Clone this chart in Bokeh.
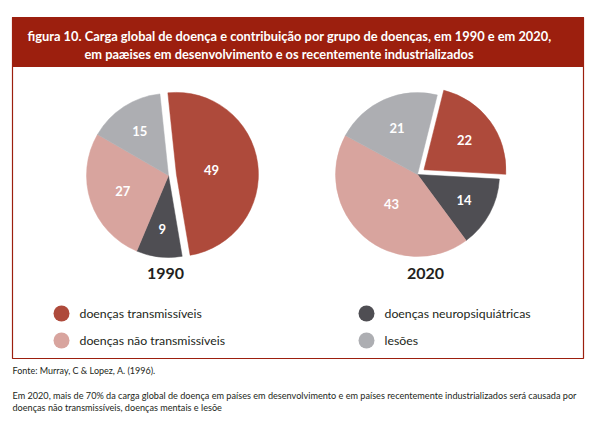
import math
from bokeh.plotting import figure
from bokeh.models import Range1d, ColumnDataSource
from bokeh.core.properties import value
from bokeh.embed import file_html
from bokeh.resources import INLINE

# ---- data ----
categories = ["doenças transmissíveis", "doenças neuropsiquiátricas",
              "doenças não transmissíveis", "lesões"]
values_1990 = [49, 9, 27, 15]
values_2020 = [22, 14, 43, 21]
colors = ["#ae4a3b", "#4f4e53", "#d8a49e", "#adaeb2"]
years = ["1990", "2020"]
title_lines = ["figura 10. Carga global de doença e contribuição por grupo de doenças, em 1990 e em 2020,",
               "em paæises em desenvolvimento e os recentemente industrializados"]
source_note = "Fonte: Murray, C & Lopez, A. (1996)."
note_lines = ["Em 2020, mais de 70% da carga global de doença em países em desenvolvimento e em países recentemente industrializados será causada por",
              "doenças não transmissíveis, doenças mentais e lesõe"]

FONT = "Lato"
W, H = 603, 422
p = figure(width=W, height=H, output_backend="svg", toolbar_location=None,
           x_range=Range1d(0, W), y_range=Range1d(-H, 0),
           x_axis_type=None, y_axis_type=None, min_border=0)
p.outline_line_color = None
p.grid.visible = False
p.background_fill_color = "white"
p.border_fill_color = "white"

RED = "#9c1f0e"
# frame and banner
p.quad(left=[12], right=[583], top=[-17], bottom=[-358], fill_color=None,
       line_color=RED, line_width=1.2)
p.quad(left=[12], right=[583], top=[-17], bottom=[-66], fill_color=RED,
       line_color=RED, line_width=1)
p.text(x=[27], y=[-35], text=[title_lines[0]], text_color="white",
       text_font=value(FONT), text_font_style="bold", text_font_size="12.85px",
       text_baseline="middle", text_align="left")
p.text(x=[84], y=[-53], text=[title_lines[1]], text_color="white",
       text_font=value(FONT), text_font_style="bold", text_font_size="12.85px",
       text_baseline="middle", text_align="left")


def pie(vals, cx, cy, r, start_deg, explode):
    total = float(sum(vals))
    xs, ys, sa, ea, lx, ly, lab = [], [], [], [], [], [], []
    cum = 0.0
    for i, v in enumerate(vals):
        a_end = start_deg - cum / total * 360.0
        cum += v
        a_start = start_deg - cum / total * 360.0
        mid = math.radians((a_start + a_end) / 2)
        off = explode if i == 0 else 0.0
        x0 = cx + off * math.cos(mid)
        y0 = cy + off * math.sin(mid)
        half = math.radians((a_end - a_start) / 2)
        d = 2 * r * math.sin(half) / (3 * half)
        xs.append(x0); ys.append(y0)
        sa.append(math.radians(a_start)); ea.append(math.radians(a_end))
        lx.append(x0 + d * math.cos(mid)); ly.append(y0 + d * math.sin(mid))
        lab.append(str(v))
    src = ColumnDataSource(dict(x=xs, y=ys, s=sa, e=ea, c=colors, lx=lx, ly=ly, lab=lab))
    p.wedge(x="x", y="y", radius=r, start_angle="s", end_angle="e",
            direction="anticlock", fill_color="c", line_color="c", line_width=0.5,
            source=src)
    p.text(x="lx", y="ly", text="lab", source=src, text_color="white",
           text_font=value(FONT), text_font_style="bold", text_font_size="13px",
           text_align="center", text_baseline="middle")


pie(values_1990, 168, -175, 82, 96, 8)
pie(values_2020, 417, -174, 82, 76, 8)

p.text(x=[165, 425], y=[-273, -273], text=years, text_color="#231f20",
       text_font=value(FONT), text_font_style="bold", text_font_size="16px",
       text_align="center", text_baseline="middle")

# legend
leg_order = [0, 2, 1, 3]
leg_x = [61, 61, 366, 366]
leg_y = [-313, -340, -313, -340]
p.scatter(x=leg_x, y=leg_y, size=16, marker="circle",
          fill_color=[colors[i] for i in leg_order], line_color=None)
p.text(x=[x + 18 for x in leg_x], y=leg_y, text=[categories[i] for i in leg_order],
       text_color="#231f20", text_font=value(FONT), text_font_size="12.3px",
       text_align="left", text_baseline="middle")

# notes
p.text(x=[12], y=[-370], text=[source_note], text_color="#231f20",
       text_font=value(FONT), text_font_size="9px", text_align="left",
       text_baseline="middle")
p.text(x=[12, 12], y=[-395, -407], text=note_lines, text_color="#231f20",
       text_font=value(FONT), text_font_size="9.15px", text_align="left",
       text_baseline="middle")

open("out.html", "w").write(file_html(p, INLINE))
